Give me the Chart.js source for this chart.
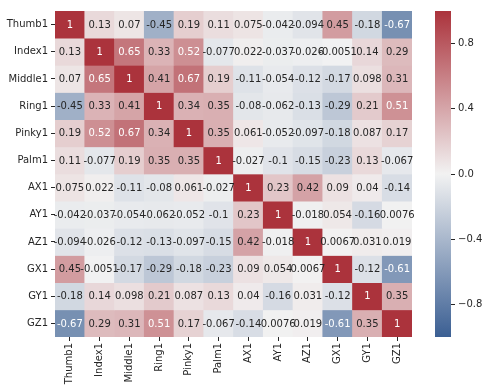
<!DOCTYPE html>
<html>
<head>
<meta charset="utf-8">
<script src="https://cdn.jsdelivr.net/npm/chart.js@4.4.1/dist/chart.umd.min.js"></script>
<style>
  html, body { margin: 0; padding: 0; background: #fff; overflow: hidden; }
  #wrap { position: relative; width: 489px; height: 392px; }
  #heat { position: absolute; left: 0; top: 0; }
  #cbar { position: absolute; left: 435px; top: 0; }
</style>
</head>
<body>
<div id="wrap">
  <canvas id="heat" width="489" height="392"></canvas>
  <canvas id="cbar" width="54" height="392"></canvas>
</div>
<script>
const labels = ["Thumb1", "Index1", "Middle1", "Ring1", "Pinky1", "Palm1", "AX1", "AY1", "AZ1", "GX1", "GY1", "GZ1"];

// correlation rows, in the order of labels
const thumb1 = [1, 0.13, 0.07, -0.45, 0.19, 0.11, 0.075, -0.042, -0.094, 0.45, -0.18, -0.67];
const index1 = [0.13, 1, 0.65, 0.33, 0.52, -0.077, 0.022, -0.037, -0.026, -0.0051, 0.14, 0.29];
const middle1 = [0.07, 0.65, 1, 0.41, 0.67, 0.19, -0.11, -0.054, -0.12, -0.17, 0.098, 0.31];
const ring1 = [-0.45, 0.33, 0.41, 1, 0.34, 0.35, -0.08, -0.062, -0.13, -0.29, 0.21, 0.51];
const pinky1 = [0.19, 0.52, 0.67, 0.34, 1, 0.35, 0.061, -0.052, -0.097, -0.18, 0.087, 0.17];
const palm1 = [0.11, -0.077, 0.19, 0.35, 0.35, 1, -0.027, -0.1, -0.15, -0.23, 0.13, -0.067];
const ax1 = [0.075, 0.022, -0.11, -0.08, 0.061, -0.027, 1, 0.23, 0.42, 0.09, 0.04, -0.14];
const ay1 = [-0.042, -0.037, -0.054, -0.062, -0.052, -0.1, 0.23, 1, -0.018, 0.054, -0.16, 0.0076];
const az1 = [-0.094, -0.026, -0.12, -0.13, -0.097, -0.15, 0.42, -0.018, 1, 0.0067, 0.031, 0.019];
const gx1 = [0.45, -0.0051, -0.17, -0.29, -0.18, -0.23, 0.09, 0.054, 0.0067, 1, -0.12, -0.61];
const gy1 = [-0.18, 0.14, 0.098, 0.21, 0.087, 0.13, 0.04, -0.16, 0.031, -0.12, 1, 0.35];
const gz1 = [-0.67, 0.29, 0.31, 0.51, 0.17, -0.067, -0.14, 0.0076, 0.019, -0.61, 0.35, 1];
const matrix = [thumb1, index1, middle1, ring1, pinky1, palm1, ax1, ay1, az1, gx1, gy1, gz1];

const cbarRange = [-1, 1];
const cbarTicks = [-0.8, -0.4, 0, 0.4, 0.8];

const FONT = "DejaVu Sans";
const DARK = "#262626";
const LOW = [59, 95, 147];
const MID = [242, 242, 242];
const HIGH = [171, 51, 60];

function cellColor(v) {
  const t = Math.min(1, Math.abs(v));
  const end = v < 0 ? LOW : HIGH;
  const c = MID.map((m, i) => Math.round(m + (end[i] - m) * t));
  return `rgb(${c[0]},${c[1]},${c[2]})`;
}

// light text on the strong cells, like seaborn does
function textColor(v) {
  return (v > 0.48 || v < -0.5) ? "#ffffff" : DARK;
}

const cellText = {
  id: "cellText",
  afterDatasetsDraw(chart) {
    const { ctx, scales: { x, y } } = chart;
    ctx.save();
    ctx.font = `10px "${FONT}"`;
    ctx.textAlign = "center";
    ctx.textBaseline = "middle";
    matrix.forEach((row, r) => {
      row.forEach((v, c) => {
        ctx.fillStyle = textColor(v);
        ctx.fillText(String(v), x.getPixelForValue(c), y.getPixelForValue(r + 0.5) + 0.5);
      });
    });
    ctx.restore();
  }
};

new Chart(document.getElementById("heat"), {
  type: "bar",
  data: {
    labels: labels,
    datasets: matrix.map((row, r) => ({
      label: labels[r],
      data: row.map(() => [r, r + 1]),
      backgroundColor: row.map(cellColor),
      grouped: false,
      barPercentage: 1,
      categoryPercentage: 1,
      borderWidth: 0
    }))
  },
  options: {
    responsive: false,
    animation: false,
    layout: { padding: { top: 11, right: 77, bottom: 0, left: 0 } },
    plugins: { legend: { display: false }, tooltip: { enabled: false } },
    scales: {
      x: {
        grid: { drawOnChartArea: false, offset: false, tickLength: 4, tickColor: DARK },
        border: { display: false },
        ticks: { minRotation: 90, maxRotation: 90, autoSkip: false, padding: 2, color: DARK, font: { family: FONT, size: 10 } },
        afterFit: s => { s.height = 55; }
      },
      y: {
        type: "linear",
        min: 0,
        max: 12,
        reverse: true,
        afterBuildTicks: s => { s.ticks = labels.map((_, i) => ({ value: i + 0.5 })); },
        grid: { drawOnChartArea: false, tickLength: 4, tickColor: DARK },
        border: { display: false },
        ticks: { callback: (v, i) => labels[i], padding: 3, color: DARK, font: { family: FONT, size: 10 } },
        afterFit: s => { s.width = 55; }
      }
    }
  },
  plugins: [cellText]
});

// colour bar
new Chart(document.getElementById("cbar"), {
  type: "bar",
  data: {
    labels: [""],
    datasets: [{
      data: [cbarRange],
      backgroundColor: c => {
        const a = c.chart.chartArea;
        if (!a) return "rgb(242,242,242)";
        const g = c.chart.ctx.createLinearGradient(0, a.bottom, 0, a.top);
        g.addColorStop(0, `rgb(${LOW.join(",")})`);
        g.addColorStop(0.5, `rgb(${MID.join(",")})`);
        g.addColorStop(1, `rgb(${HIGH.join(",")})`);
        return g;
      },
      barPercentage: 1,
      categoryPercentage: 1,
      borderWidth: 0
    }]
  },
  options: {
    responsive: false,
    animation: false,
    layout: { padding: { top: 11, bottom: 55, left: 0, right: 0 } },
    plugins: { legend: { display: false }, tooltip: { enabled: false } },
    scales: {
      x: { display: false },
      y: {
        position: "right",
        min: cbarRange[0],
        max: cbarRange[1],
        afterBuildTicks: s => { s.ticks = cbarTicks.map(v => ({ value: v })); },
        grid: { drawOnChartArea: false, tickLength: 4, tickColor: DARK },
        border: { display: false },
        ticks: {
          callback: v => v.toFixed(1).replace("-", "\u2212"),
          padding: 3,
          color: DARK,
          font: { family: FONT, size: 10 }
        },
        afterFit: s => { s.width = 38; }
      }
    }
  }
});
</script>
</body>
</html>
